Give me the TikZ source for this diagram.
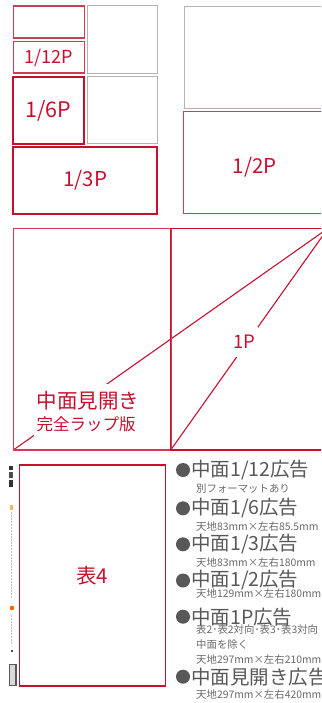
\documentclass[tikz,border=0pt]{standalone}
\usepackage{fontspec}
\setmainfont{Noto Sans CJK JP}
\usetikzlibrary{fit}
\definecolor{redA}{RGB}{200,16,46}
\colorlet{redB}{redA!82}
\definecolor{grayBox}{RGB}{180,180,180}
\definecolor{headGray}{RGB}{88,88,88}
\definecolor{subGray}{RGB}{105,105,105}
\pgfdeclarelayer{lines}
\pgfdeclarelayer{mask}
\pgfsetlayers{lines,mask,main}
\tikzset{
  boxbase/.style={rectangle, inner sep=0pt, outer sep=0pt, anchor=north west},
  adbox/.style={boxbase, draw=redA, line width=1.8pt},
  adboxlight/.style={boxbase, draw=redB, line width=1.6pt},
  emptybox/.style={boxbase, draw=grayBox, line width=1pt},
  redlabel/.style={text=redA, inner sep=0pt},
  diag/.style={draw=redA, line width=1.1pt},
  bulletdot/.style={circle, fill=headGray, minimum size=14pt, inner sep=0pt},
  headtext/.style={text=headGray, anchor=west, inner sep=0pt, font=\fontsize{19.5}{20}\selectfont},
  subtext/.style={text=subGray, anchor=west, inner sep=0pt, font=\fontsize{10.4}{11}\selectfont},
  spinemark/.style={draw=black!25, line width=1.2pt, dash pattern=on 2pt off 1pt},
}
\begin{document}
\begin{tikzpicture}[x=1pt,y=-1pt]
\useasboundingbox (0,0) rectangle (321,703);
\clip (0,0) rectangle (321,703);

% --- top left grid ---
\node[adboxlight, minimum width=71pt, minimum height=32.3pt] (s12a) at (13.3,6) {};
\node[adboxlight, minimum width=71pt, minimum height=31.6pt] (s12b) at (13.3,41.7) {};
\node[emptybox, minimum width=69.7pt, minimum height=67.3pt] (g1) at (87.3,6) {};
\node[adbox, minimum width=70.4pt, minimum height=67.3pt] (p6) at (13.3,77) {};
\node[emptybox, minimum width=69.7pt, minimum height=67pt] (g2) at (87.3,77) {};
\node[adbox, minimum width=144pt, minimum height=67pt] (p3) at (13.3,146.7) {};
\node[redlabel, font=\fontsize{18}{18}\selectfont] (l12) at (s12b.center) {1/12P};
\node[redlabel, font=\fontsize{21.5}{22}\selectfont] (l6) at (p6.center) {1/6P};
\node[redlabel, font=\fontsize{20.5}{21}\selectfont] (l3) at (p3.center) {1/3P};

% --- top right ---
\node[emptybox, minimum width=150pt, minimum height=101.6pt] (g3) at (184,6.7) {};
\node[adboxlight, minimum width=150pt, minimum height=102pt] (p2) at (183.3,111.7) {};
\node[redlabel, font=\fontsize{20.5}{21}\selectfont] (l2) at (254.7,167.5) {1/2P};

% --- spread ---
\node[adboxlight, minimum width=157.4pt, minimum height=221.7pt] (sL) at (13.3,228.3) {};
\node[adbox, line width=1.5pt, minimum width=157.3pt, minimum height=221.7pt] (sR) at (170.7,228.3) {};
\coordinate (corner) at (sR.north east);
\begin{pgfonlayer}{lines}
\draw[diag] (corner) -- (sL.south west);
\draw[diag] (corner) -- (sR.south west);
\end{pgfonlayer}
\node[redlabel, font=\fontsize{18.5}{19}\selectfont] (l1) at (244,342) {1P};
\node[redlabel, anchor=west, font=\fontsize{20.5}{21}\selectfont] (lm1) at (36.5,401) {中面見開き};
\node[redlabel, anchor=west, font=\fontsize{16.5}{17}\selectfont] (lm2) at (36.5,424.5) {完全ラップ版};
\begin{pgfonlayer}{mask}
\node[fill=white, inner xsep=3pt, inner ysep=8pt, fit=(l1)] (m1) {};
\node[fill=white, inner xsep=3pt, inner ysep=7pt, fit=(lm1)(lm2)] (m2) {};
\end{pgfonlayer}

% --- back cover ---
\node[adbox, line width=1.6pt, minimum width=146pt, minimum height=220.7pt] (h4) at (19.3,465) {};
\node[redlabel, font=\fontsize{20.5}{21}\selectfont] (l4) at (h4.center) {表4};

% spine thumbnail
\fill[black!80] (9,466) rectangle (13,470);
\fill[black!70] (9,472) rectangle (13,478);
\fill[black!80] (9,480) rectangle (13,487);
\fill[orange!60] (10,505) rectangle (13,510);
\draw[spinemark] (11.5,512) -- (11.5,598);
\fill[orange!80!red] (12,608) circle (2.3pt);
\draw[spinemark] (11.5,615) -- (11.5,645);
\fill[black!70] (11,650) rectangle (12.5,652);
\draw[black!65, line width=1.3pt, fill=black!15] (9.5,664.5) rectangle (16,685.5);

% --- list ---
\node[bulletdot] (b1) at (183,470) {};
\node[headtext] (t1) at (191,470) {中面1/12広告};
\node[subtext] (u1) at (196,488.3) {別フォーマットあり};
\node[bulletdot] (b2) at (183,508.3) {};
\node[headtext] (t2) at (191,508.3) {中面1/6広告};
\node[subtext] (u2) at (196,526.7) {天地83mm×左右85.5mm};
\node[bulletdot] (b3) at (183,544.3) {};
\node[headtext] (t3) at (191,544.3) {中面1/3広告};
\node[subtext] (u3) at (196,562.3) {天地83mm×左右180mm};
\node[bulletdot] (b4) at (183,580.5) {};
\node[headtext] (t4) at (191,580.5) {中面1/2広告};
\node[subtext] (u4) at (196,593.3) {天地129mm×左右180mm};
\node[bulletdot] (b5) at (183,616.7) {};
\node[headtext] (t5) at (191,616.7) {中面1P広告};
\node[subtext] (u5a) at (196,630) {表2･表2対向･表3･表3対向};
\node[subtext] (u5b) at (196,644.3) {中面を除く};
\node[subtext] (u5c) at (196,659.3) {天地297mm×左右210mm};
\node[bulletdot] (b6) at (183,676.7) {};
\node[headtext] (t6) at (191,676.7) {中面見開き広告};
\node[subtext] (u6) at (196,695) {天地297mm×左右420mm};
\end{tikzpicture}
\end{document}
